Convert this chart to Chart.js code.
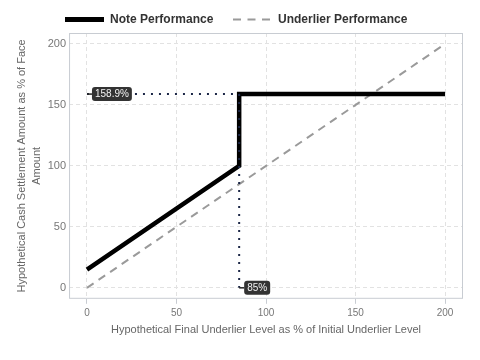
<!DOCTYPE html>
<html>
<head>
<meta charset="utf-8">
<script src="https://cdn.jsdelivr.net/npm/chart.js@4"></script>
<style>
  html, body { margin: 0; padding: 0; background: #fff; }
  #wrap { width: 480px; height: 360px; }
</style>
</head>
<body>
<div id="wrap"><canvas id="chart"></canvas></div>
<script>
// underlier level (% of initial) vs cash settlement (% of face)
const noteX = [0, 85, 85, 200];
const noteY = [15, 100, 158.9, 158.9];
const underlierX = [0, 200];
const underlierY = [0, 200];
const thresholdLevel = 85;
const capAmount = 158.9;
const tickValues = [0, 50, 100, 150, 200];

const FONT = '"Liberation Sans", Arial, sans-serif';

const toPoints = (xs, ys) => xs.map((x, i) => ({ x: x, y: ys[i] }));

// legend, callout boxes and the border round the plot
const annotate = {
  id: 'annotate',
  afterDatasetsDraw(chart) {
    const ctx = chart.ctx;
    const xs = chart.scales.x, ys = chart.scales.y;
    const a = chart.chartArea;
    ctx.save();
    ctx.strokeStyle = '#c8ccd2';
    ctx.lineWidth = 1;
    ctx.strokeRect(a.left + 0.5, a.top + 0.5, a.right - a.left - 1, a.bottom - a.top - 1);

    const label = (txt, px, py) => {
      ctx.font = '10px ' + FONT;
      const w = ctx.measureText(txt).width + 6;
      const h = 14;
      ctx.setLineDash([]);
      ctx.strokeStyle = '#222';
      ctx.lineWidth = 1.5;
      ctx.beginPath();
      ctx.moveTo(px, py);
      ctx.lineTo(px + 5, py);
      ctx.stroke();
      ctx.fillStyle = '#333';
      ctx.beginPath();
      ctx.roundRect(px + 5, py - h / 2, w, h, 3);
      ctx.fill();
      ctx.fillStyle = '#f2f2f2';
      ctx.textBaseline = 'middle';
      ctx.textAlign = 'left';
      ctx.fillText(txt, px + 8, py + 0.5);
    };
    label(capAmount + '%', xs.getPixelForValue(0), ys.getPixelForValue(capAmount));
    label(thresholdLevel + '%', xs.getPixelForValue(thresholdLevel), ys.getPixelForValue(0));

    // legend
    const ly = 19.5;
    const item = (ds, x0) => {
      ctx.strokeStyle = ds.borderColor;
      ctx.lineWidth = ds === chart.data.datasets[0] ? 5 : 2;
      ctx.setLineDash(ds.borderDash ? [8, 6.5] : []);
      ctx.beginPath();
      ctx.moveTo(x0, ly);
      ctx.lineTo(x0 + 39, ly);
      ctx.stroke();
      ctx.setLineDash([]);
      ctx.fillStyle = '#333';
      ctx.font = 'bold 12px ' + FONT;
      ctx.textBaseline = 'middle';
      ctx.fillText(ds.label, x0 + 45, ly);
    };
    item(chart.data.datasets[0], 65);
    item(chart.data.datasets[1], 233);
    ctx.restore();
  }
};

new Chart(document.getElementById('chart'), {
  type: 'line',
  data: {
    datasets: [
      {
        label: 'Note Performance',
        data: toPoints(noteX, noteY),
        borderColor: '#000',
        borderWidth: 4.5,
        pointRadius: 0,
        order: 2
      },
      {
        label: 'Underlier Performance',
        data: toPoints(underlierX, underlierY),
        borderColor: '#9a9a9a',
        borderWidth: 2,
        borderDash: [8, 6],
        pointRadius: 0,
        order: 3
      },
      {
        label: 'cap',
        data: [{ x: 0, y: capAmount }, { x: thresholdLevel, y: capAmount }],
        borderColor: '#1c2747',
        borderWidth: 2,
        borderDash: [2, 6],
        pointRadius: 0,
        order: 1
      },
      {
        label: 'threshold',
        data: [{ x: thresholdLevel, y: capAmount }, { x: thresholdLevel, y: 0 }],
        borderColor: '#1c2747',
        borderWidth: 2,
        borderDash: [2, 6],
        pointRadius: 0,
        order: 1
      }
    ]
  },
  options: {
    responsive: true,
    maintainAspectRatio: false,
    animation: false,
    layout: { padding: { left: 13, right: 17, top: 33, bottom: 23 } },
    plugins: {
      tooltip: { enabled: false },
      legend: { display: false }
    },
    scales: {
      x: {
        type: 'linear',
        min: -10,
        max: 210,
        afterBuildTicks: (s) => { s.ticks = tickValues.map(v => ({ value: v })); },
        ticks: { color: '#777', font: { family: FONT, size: 10 }, padding: 3 },
        grid: { color: '#e2e2e2', tickColor: '#c8ccd2', tickLength: 5 },
        border: { display: false, dash: [4, 3] },
        title: {
          display: true,
          text: 'Hypothetical Final Underlier Level as % of Initial Underlier Level',
          color: '#666',
          font: { family: FONT, size: 11 },
          padding: { top: 2, bottom: 0 }
        }
      },
      y: {
        type: 'linear',
        min: -9,
        max: 209,
        afterBuildTicks: (s) => { s.ticks = tickValues.map(v => ({ value: v })); },
        ticks: { color: '#777', font: { family: FONT, size: 11 }, padding: 3 },
        grid: { color: '#e2e2e2', drawTicks: false },
        border: { display: false, dash: [4, 3] },
        title: {
          display: true,
          text: ['Hypothetical Cash Settlement Amount as % of Face', 'Amount'],
          color: '#666',
          font: { family: FONT, size: 11, lineHeight: 1.35 },
          padding: { top: 2, bottom: 0 }
        }
      }
    }
  },
  plugins: [annotate]
});
</script>
</body>
</html>
